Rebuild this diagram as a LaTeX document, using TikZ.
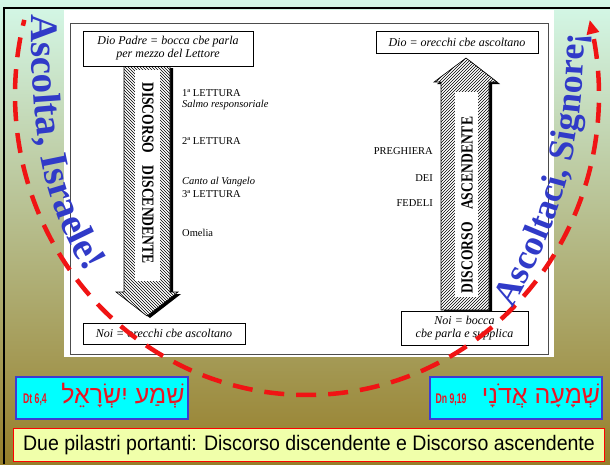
\documentclass[tikz,border=0pt]{standalone}
\usepackage{fontspec}
\setmainfont{Liberation Serif}
\setsansfont{Liberation Sans}
\newfontfamily\hebfont[Script=Hebrew]{Liberation Sans}
\TeXXeTstate=1
\usetikzlibrary{arrows.meta,patterns,decorations.text,positioning}

\definecolor{mint}{RGB}{212,248,232}
\definecolor{midgreen}{RGB}{192,218,178}
\definecolor{olive}{RGB}{150,126,42}
\definecolor{ascblue}{RGB}{48,58,200}
\definecolor{dashred}{RGB}{240,20,20}
\definecolor{hebred}{RGB}{235,20,35}
\definecolor{boxcyan}{RGB}{0,255,255}
\definecolor{boxblue}{RGB}{60,60,210}
\definecolor{notepaper}{RGB}{240,255,170}

\newcommand{\callleft}{\bfseries\fontsize{39}{39}\selectfont}
\newcommand{\callright}{\bfseries\fontsize{36}{36}\selectfont}

\begin{document}
\begin{tikzpicture}[x=1pt, y=-1pt,
    voice/.style={draw, fill=white, line width=0.8pt, inner sep=2pt, align=center,
      font=\itshape\fontsize{12}{13}\selectfont},
    part/.style={anchor=base west, inner sep=0pt, font=\fontsize{10.5}{12}\selectfont},
    partit/.style={part, font=\itshape\fontsize{10.5}{12}\selectfont},
    prayer/.style={anchor=base east, inner sep=0pt, font=\fontsize{10.5}{12}\selectfont},
    blockarrow/.style={fill=white, draw=black, line width=0.6pt, postaction={pattern=#1}},
    pillar/.style={font=\bfseries\fontsize{17}{17}\selectfont, inner sep=0pt},
    shema/.style={draw=boxblue, line width=1.5pt, fill=boxcyan, minimum width=172pt, minimum height=42pt},
    verse/.style={text=hebred, inner sep=0pt, font=\sffamily\bfseries\fontsize{14}{14}\selectfont},
    hebrew/.style={text=hebred, inner sep=0pt, font=\hebfont\fontsize{25}{25}\selectfont},
    reddash/.style={draw=dashred, line width=4.5pt, dash pattern=on 20pt off 12pt, dash phase=14pt}]

\useasboundingbox (0,0) rectangle (610,464);
\shade[top color=mint, middle color=midgreen, bottom color=olive] (0,0) rectangle (610,464);
\fill[white] (64,10) rectangle (554,357);
\draw[black!70, line width=0.6pt] (70,23) rectangle (548,354);
\draw[line width=2.5pt] (4,464) -- (4,8) -- (610,8);

\fill[black, shift={(3,2)}] (124,66) -- (170,66) -- (170,292) -- (178,292) -- (147,316) -- (116,292) -- (124,292) -- cycle;
\path[blockarrow=north west lines] (124,66) -- (170,66) -- (170,292) -- (178,292) -- (147,316) -- (116,292) -- (124,292) -- cycle;
\fill[white] (135,70) rectangle (160,281);
\node[pillar, rotate=-90] (down) at (148,173) {\scalebox{0.8}[1]{DISCORSO\hspace{0.9em}DISCENDENTE}};

\fill[black, shift={(3,2)}] (441,310) -- (441,82) -- (434,82) -- (466,58) -- (497,82) -- (489,82) -- (489,310) -- cycle;
\path[blockarrow=north east lines] (441,310) -- (441,82) -- (434,82) -- (466,58) -- (497,82) -- (489,82) -- (489,310) -- cycle;
\fill[white] (455,92) rectangle (478,297);
\node[pillar, rotate=90] (up) at (467,205) {\scalebox{0.8}[1]{DISCORSO\hspace{0.9em}ASCENDENTE}};

\node[voice, minimum width=170pt, minimum height=35pt] (padre) at (168,48.5) {Dio Padre = bocca cbe parla\\per mezzo del Lettore};
\node[voice, minimum width=162pt, minimum height=22pt] (dio) at (457,42) {Dio = orecchi cbe ascoltano};
\node[voice, minimum width=162pt, minimum height=21pt] (noiears) at (164,333.5) {Noi = orecchi cbe ascoltano};
\node[voice, minimum width=127pt, minimum height=34pt] (noimouth) at (464.5,328) {Noi = bocca\\cbe parla e supplica};

\node[part] (read1) at (182,96) {1ª LETTURA};
\node[partit] (psalm) at (182,107) {Salmo responsoriale};
\node[part] (read2) at (182,144) {2ª LETTURA};
\node[partit] (gospel) at (182,184) {Canto al Vangelo};
\node[part] (read3) at (182,197) {3ª LETTURA};
\node[part] (homily) at (182,236) {Omelia};

\node[prayer] (preg) at (433,154) {PREGHIERA};
\node[prayer] (dei) at (433,181) {DEI};
\node[prayer] (fedeli) at (433,206) {FEDELI};

\node[shema] (dt) at (102,398) {};
\node[verse] (dtref) at (35,400) {\scalebox{0.62}[1]{Dt 6,4}};
\node[hebrew] (dttext) at (123,396) {\beginR שְׁמַע יִשְׂרָאֵל\endR};

\node[shema] (dn) at (516,398) {};
\node[verse] (dnref) at (451,400) {\scalebox{0.62}[1]{Dn 9,19}};
\node[hebrew] (dntext) at (541,396) {\beginR שְׁמָעָה אֲדֹנָי\endR};

\node[draw=red, line width=1.5pt, fill=notepaper, minimum width=591pt, minimum height=33pt,
  font=\sffamily\fontsize{21}{21}\selectfont] (motto) at (309,445)
  {\scalebox{0.93}[1]{Due pilastri portanti: Discorso discendente e Discorso ascendente}};

\draw[reddash, -{Triangle[length=14pt, width=12pt]}] plot[domain=-194.5:14.5, samples=120, smooth]
  ({307+292*cos(-\x)}, {95+300*sin(-\x)});

\path[decorate, decoration={text along path, text align=left, text color=ascblue,
  text={|\callleft|Ascolta, Israele!}}] (32,14) .. controls (30,145) and (45,215) .. (97,290);
\path[decorate, decoration={text along path, text align=left, text color=ascblue,
  text={|\callright|Ascoltaci, Signore¡}}] (512,308) .. controls (562,220) and (585,150) .. (585,5);
\end{tikzpicture}
\end{document}
